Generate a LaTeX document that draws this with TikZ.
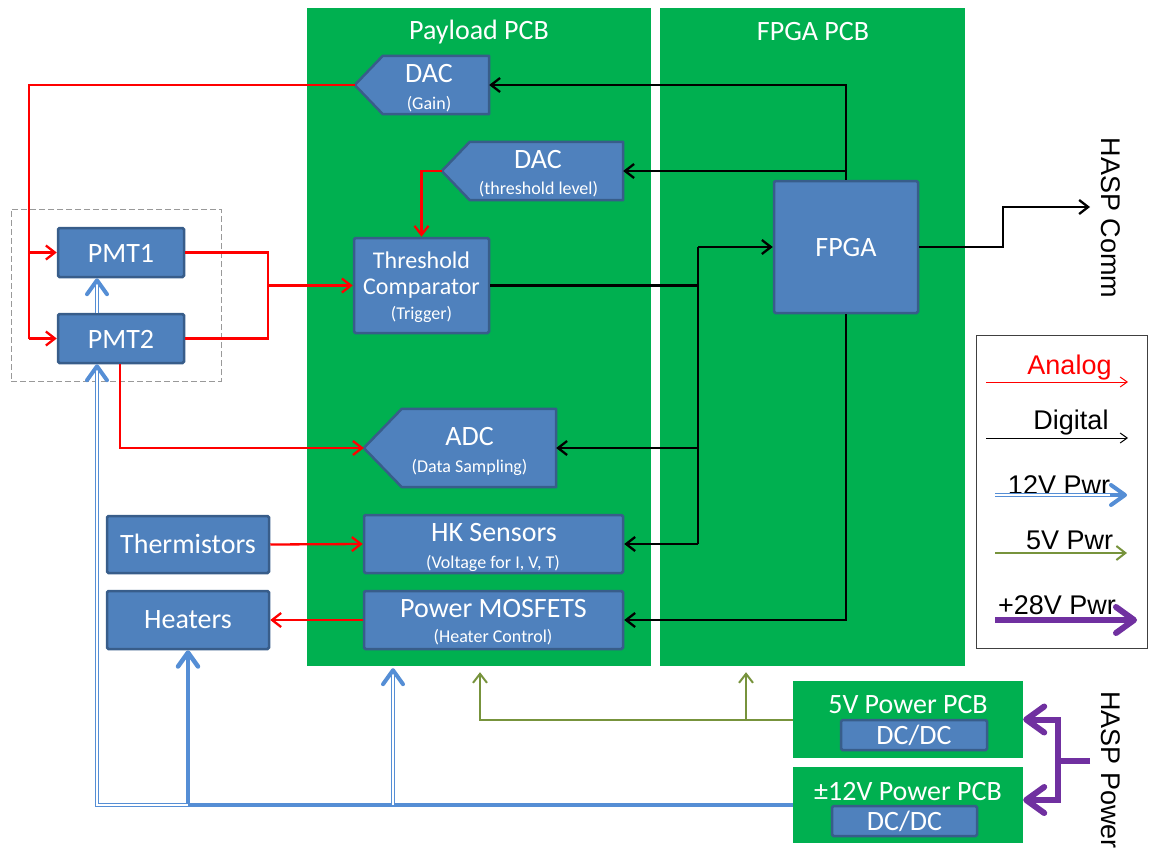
\documentclass[tikz,border=0pt]{standalone}
\usepackage{fontspec}
\setmainfont{Carlito}
\newfontfamily\arialf{Liberation Sans}
\usetikzlibrary{arrows.meta,calc}
\definecolor{pcbgreen}{HTML}{00B050}
\definecolor{boxblue}{HTML}{4F81BD}
\definecolor{boxedge}{HTML}{385D8A}
\definecolor{pwblue}{HTML}{558ED5}
\definecolor{pwgreen}{HTML}{77933C}
\definecolor{pwpurple}{HTML}{7030A0}
\begin{document}
\begin{tikzpicture}[x=1pt,y=-1pt,
  pcb/.style={fill=pcbgreen,draw=none,inner sep=0},
  blk/.style={fill=boxblue,draw=boxedge,line width=2.5pt,rounded corners=1.5pt,inner sep=0},
  ghost/.style={draw=none,inner sep=0},
  big/.style={text=white,inner sep=0,font=\fontsize{28}{30}\selectfont},
  mid/.style={text=white,inner sep=0,font=\fontsize{24}{27}\selectfont},
  sml/.style={text=white,inner sep=0,font=\fontsize{18}{20}\selectfont},
  leg/.style={inner sep=0,font=\arialf\fontsize{27}{30}\selectfont},
  an/.style={red,line width=2.3pt,-{Straight Barb[length=9pt,width=14pt]}},
  anl/.style={red,line width=2.3pt},
  dg/.style={black,line width=2.3pt,-{Straight Barb[length=9pt,width=14pt]}},
  dgl/.style={black,line width=2.3pt},
  p12/.style={pwblue,line width=1.2pt,double=white,double distance=1.6pt},
  p12tip/.style={pwblue,line width=4pt,-{Straight Barb[length=14pt,width=20pt,round]}},
  p12thick/.style={pwblue,line width=4.5pt,-{Straight Barb[length=14pt,width=20pt,round]}},
  p5/.style={pwgreen,line width=2pt,-{Straight Barb[length=9pt,width=14pt]}},
  p28/.style={pwpurple,line width=6pt},
  p28a/.style={pwpurple,line width=6pt,-{Straight Barb[length=18pt,width=26pt,round]}},
  legthin/.style={line width=1pt,-{Straight Barb[length=7pt,width=10pt]}},
]
\useasboundingbox (0,0) rectangle (1151,854);
% PCBs
\node[pcb,minimum width=344,minimum height=658] (pay) at (479,337) {};
\node[pcb,minimum width=305,minimum height=658] (fpb) at (812.5,337) {};
\node[big] (t-pay) at (479,32) {Payload PCB};
\node[big] (t-fpb) at (813,32) {FPGA PCB};
\node[pcb,minimum width=230,minimum height=77] (pcb5) at (908,719.5) {};
\node[pcb,minimum width=230,minimum height=76] (pcb12) at (908,805) {};
% dashed PMT enclosure
\node[draw=black!40,dashed,line width=1pt,dash pattern=on 6pt off 3pt,minimum width=210,minimum height=172,inner sep=0] (encl) at (116,295) {};
% plain blocks
\node[blk,minimum width=126,minimum height=49] (pmt1) at (121,252.5) {};
\node[blk,minimum width=126,minimum height=49] (pmt2) at (121,338.5) {};
\node[blk,minimum width=162,minimum height=57] (therm) at (188,544.5) {};
\node[blk,minimum width=162,minimum height=58] (heat) at (188,620) {};
\node[blk,minimum width=135,minimum height=95] (cmp) at (421.5,285.5) {};
\node[blk,minimum width=144,minimum height=132] (fpga) at (846,247) {};
\node[blk,minimum width=259,minimum height=58] (hk) at (493.5,544) {};
\node[blk,minimum width=259,minimum height=58] (mos) at (493.5,620) {};
\node[blk,minimum width=146,minimum height=30] (dc5) at (914,735) {};
\node[blk,minimum width=145,minimum height=30] (dc12) at (904.5,821) {};
% pentagon blocks
\node[ghost,minimum width=134,minimum height=58] (dacg) at (422,85) {};
\node[ghost,minimum width=181,minimum height=58] (dact) at (532.5,171) {};
\node[ghost,minimum width=192,minimum height=78] (adc) at (460,448) {};
\draw[fill=boxblue,draw=boxedge,line width=2.5pt,line join=round]
  (dacg.west) -- ($(dacg.north west)+(28,0)$) -- (dacg.north east) -- (dacg.south east) -- ($(dacg.south west)+(28,0)$) -- cycle;
\draw[fill=boxblue,draw=boxedge,line width=2.5pt,line join=round]
  (dact.west) -- ($(dact.north west)+(28,0)$) -- (dact.north east) -- (dact.south east) -- ($(dact.south west)+(28,0)$) -- cycle;
\draw[fill=boxblue,draw=boxedge,line width=2.5pt,line join=round]
  (adc.west) -- ($(adc.north west)+(38,0)$) -- (adc.north east) -- (adc.south east) -- ($(adc.south west)+(38,0)$) -- cycle;
% texts
\node[big] (t-pmt1) at (121,253) {PMT1};
\node[big] (t-pmt2) at (121,339) {PMT2};
\node[big] (t-therm) at (188,544) {Thermistors};
\node[big] (t-heat) at (188,620) {Heaters};
\node[mid] (t-cmp1) at (421.5,260) {Threshold};
\node[mid] (t-cmp2) at (421.5,289) {Comparator};
\node[sml] (t-cmp3) at (421.5,314) {(Trigger)};
\node[big] (t-fpga) at (846,248) {FPGA};
\node[big] (t-dacg1) at (429,74) {DAC};
\node[sml] (t-dacg2) at (429,104) {(Gain)};
\node[big] (t-dact1) at (538,160) {DAC};
\node[sml] (t-dact2) at (538.5,189) {(threshold level)};
\node[big] (t-adc1) at (469.5,437) {ADC};
\node[sml] (t-adc2) at (469.5,467) {(Data Sampling)};
\node[big] (t-hk1) at (494,533) {HK Sensors};
\node[sml] (t-hk2) at (493,563) {(Voltage for I, V, T)};
\node[big] (t-mos1) at (493.5,609) {Power MOSFETS};
\node[sml] (t-mos2) at (493,637) {(Heater Control)};
\node[big] (t-pcb5) at (908,705) {5V Power PCB};
\node[big] (t-dc5) at (914,735) {DC/DC};
\node[big] (t-pcb12) at (908,791) {±12V Power PCB};
\node[big] (t-dc12) at (904.5,821) {DC/DC};
% side labels
\node[leg,rotate=-90] (comm) at (1111,218) {HASP Comm};
\node[leg,rotate=-90] (hpow) at (1111,770) {HASP Power};
% analog connectors
\coordinate (rA) at (29,85);
\coordinate (rB) at (268,0);
\draw[anl] (dacg.west) -- (rA) -- (rA |- pmt2.west);
\draw[an] (rA |- pmt1.west) -- (pmt1.west);
\draw[an] (rA |- pmt2.west) -- (pmt2.west);
\draw[anl] (pmt1.east) -- (rB |- pmt1.east) -- (rB |- pmt2.east) -- (pmt2.east);
\draw[an] (rB |- cmp.west) -- (cmp.west);
\draw[an] (dact.west) -| (cmp.north);
\draw[an] ($(pmt2.south)+(-1,0)$) |- (adc.west);
\draw[an] (therm.east) -- (hk.west);
\draw[an] (mos.west) -- (heat.east);
% digital connectors
\coordinate (bus) at (698,0);
\coordinate (cm) at (1003,0);
\coordinate (commend) at (1090,207);
\draw[dg] (fpga.north) |- (dacg.east);
\draw[dg] (fpga.north |- dact.east) -- (dact.east);
\draw[dgl] (cmp.east) -- (bus |- cmp.east);
\draw[dgl] (bus |- fpga.west) -- (bus |- hk.east);
\draw[dg] (bus |- fpga.west) -- (fpga.west);
\draw[dg] (bus |- adc.east) -- (adc.east);
\draw[dg] (bus |- hk.east) -- (hk.east);
\draw[dg] (fpga.south) |- (mos.east);
\draw[dg] (fpga.east) -- (cm |- fpga.east) |- (commend);
% 12V power
\coordinate (vx) at (97,0);
\coordinate (vp) at (393,0);
\draw[p12thick] (pcb12.west) -| (heat.south);
\draw[p12] (heat.south |- pcb12.west) -| ($(vx |- pmt2.south)+(0,3)$);
\draw[p12tip] ($(vx |- pmt2.south)+(0,3)$) -- (vx |- pmt2.south);
\draw[p12] (vx |- pmt2.north) -- ($(vx |- pmt1.south)+(0,3)$);
\draw[p12tip] ($(vx |- pmt1.south)+(0,3)$) -- (vx |- pmt1.south);
\draw[p12] (vp |- pcb12.west) -- ($(vp |- pay.south)+(0,5)$);
\draw[p12tip] ($(vp |- pay.south)+(0,5)$) -- ($(vp |- pay.south)+(0,2)$);
% 5V power
\coordinate (g1) at (480,0);
\coordinate (g2) at (746,0);
\draw[p5] (pcb5.west) -| ($(g1 |- pay.south)+(0,6)$);
\draw[p5] (g2 |- pcb5.west) -- ($(g2 |- fpb.south)+(0,6)$);
% 28V power
\coordinate (hp) at (1090,761);
\coordinate (pv) at (1058,761);
\draw[p28] (hp) -- (pv);
\draw[p28a] (pv) |- (pcb5.east);
\draw[p28a] (pv) |- ($(pcb12.east)+(0,-5)$);
% legend
\node[draw=black!75,line width=1pt,minimum width=171,minimum height=313,inner sep=0] (legend) at (1061.5,491.5) {};
\node[leg,text=red] (l-an) at (1069.5,368) {Analog};
\node[leg] (l-dg) at (1071,423) {Digital};
\node[leg] (l-12) at (1059,485) {12V Pwr};
\node[leg] (l-5) at (1069.5,540) {5V Pwr};
\node[leg] (l-28) at (1057,605) {+28V Pwr};
\coordinate (la1) at (986,382); \coordinate (la2) at (1128,382);
\coordinate (ld1) at (986,438); \coordinate (ld2) at (1128,438);
\coordinate (lb1) at (995,495); \coordinate (lb2) at (1110,495); \coordinate (lb3) at (1127,495);
\coordinate (lg1) at (995,553); \coordinate (lg2) at (1127,553);
\coordinate (lp1) at (995,620); \coordinate (lp2) at (1137,620);
\draw[legthin,red] (la1) -- (la2);
\draw[legthin,black] (ld1) -- (ld2);
\draw[p12] (lb1) -- (lb2);
\draw[p12tip] (lb2) -- (lb3);
\draw[p5] (lg1) -- (lg2);
\draw[p28a] (lp1) -- (lp2);
\end{tikzpicture}
\end{document}
